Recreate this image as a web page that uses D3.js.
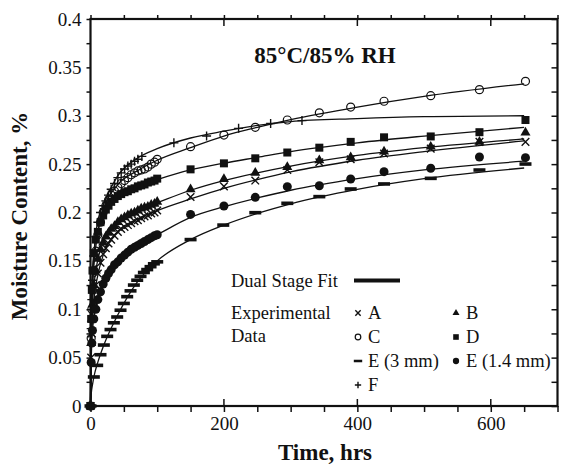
<!DOCTYPE html>
<html><head><meta charset="utf-8">
<script src="https://cdn.jsdelivr.net/npm/d3@7"></script>
<style>body{margin:0;background:#fff} text{font-family:"Liberation Serif","Times New Roman",serif;fill:#111}</style>
</head><body><svg id="c" width="561" height="466"></svg>
<script>
// ---------- DATA ----------
const seriesNames = ["A","B","C","D","E (3 mm)","E (1.4 mm)","F"];
const tMain = [0,1,2,3,5,8,11,15,19,23,27,31,36,41,46,51,56,61,66,71,76,81,86,91,96,100,150,200,247,295,343,390,440,510,583,652];
const vA = [0,0.05,0.075,0.09,0.108,0.125,0.137,0.148,0.157,0.163,0.168,0.172,0.176,0.18,0.183,0.185,0.187,0.189,0.191,0.192,0.194,0.196,0.197,0.199,0.2,0.202,0.216,0.227,0.233,0.244,0.252,0.255,0.261,0.266,0.273,0.273];
const vB = [0,0.065,0.09,0.105,0.125,0.14,0.152,0.162,0.169,0.175,0.179,0.183,0.186,0.19,0.193,0.195,0.197,0.199,0.2,0.202,0.204,0.205,0.206,0.208,0.209,0.211,0.224,0.2346,0.241,0.247,0.254,0.257,0.263,0.268,0.273,0.2825];
const vC = [0,0.07,0.1,0.12,0.14,0.16,0.177,0.19,0.2,0.207,0.213,0.218,0.222,0.226,0.23,0.233,0.236,0.239,0.241,0.243,0.244,0.245,0.247,0.25,0.252,0.255,0.268,0.28,0.288,0.2956,0.303,0.309,0.315,0.3207,0.327,0.3356];
const vD = [0,0.09,0.12,0.14,0.158,0.172,0.18,0.19,0.197,0.203,0.207,0.211,0.214,0.217,0.219,0.221,0.222,0.224,0.225,0.227,0.228,0.229,0.231,0.232,0.233,0.235,0.2446,0.2508,0.256,0.262,0.267,0.273,0.2777,0.2786,0.283,0.2956];
const vE14 = [0,0.045,0.065,0.078,0.09,0.1,0.11,0.118,0.126,0.132,0.137,0.141,0.146,0.149,0.153,0.156,0.159,0.162,0.164,0.166,0.168,0.17,0.172,0.174,0.176,0.177,0.198,0.2067,0.2157,0.2267,0.2277,0.2346,0.2422,0.2457,0.2574,0.2567];
const tE3 = [0,5,10,15,20,25,30,35,40,45,50,55,60,65,70,75,80,85,90,95,100,150,199,247,295,343,390,440,510,583,652];
const vE3 = [0,0.03,0.042,0.053,0.063,0.072,0.079,0.086,0.092,0.099,0.106,0.113,0.119,0.125,0.13,0.134,0.138,0.141,0.144,0.147,0.149,0.172,0.187,0.1998,0.2095,0.2164,0.2243,0.2295,0.2353,0.2439,0.2501];
const tF = [0,1,2,3,5,8,11,15,19,23,27,31,36,41,46,51,56,61,66,71,77,125,174,222,270,317];
const vF = [0,0.08,0.11,0.13,0.155,0.175,0.19,0.2,0.207,0.212,0.218,0.224,0.23,0.236,0.241,0.245,0.248,0.25,0.253,0.255,0.258,0.272,0.279,0.287,0.292,0.295];

// Dual stage fit curves
const tFit = [0,1,3,6,10,20,40,70,100,150,200,250,300,400,500,650];
const fitA = [0,0.05,0.09,0.115,0.132,0.158,0.18,0.193,0.202,0.214,0.225,0.234,0.242,0.254,0.263,0.274];
const fitB = [0,0.065,0.105,0.13,0.148,0.171,0.19,0.202,0.21,0.223,0.233,0.241,0.248,0.259,0.267,0.276];
const fitC = [0,0.07,0.12,0.152,0.175,0.204,0.228,0.243,0.254,0.267,0.279,0.288,0.296,0.309,0.32,0.333];
const fitD = [0,0.09,0.14,0.165,0.179,0.2,0.217,0.227,0.234,0.244,0.251,0.257,0.263,0.272,0.279,0.288];
const fitE3 = [0,0.012,0.022,0.033,0.043,0.063,0.093,0.128,0.15,0.172,0.187,0.199,0.209,0.224,0.235,0.246];
const fitE14 = [0,0.045,0.078,0.095,0.108,0.13,0.15,0.166,0.177,0.195,0.206,0.215,0.223,0.235,0.244,0.253];
const fitF = [0,0.08,0.13,0.163,0.188,0.209,0.237,0.256,0.266,0.277,0.284,0.29,0.294,0.297,0.299,0.3];

const xTicks = [0,50,100,150,200,250,300,350,400,450,500,550,600,650,700];
const xMajor = [0,200,400,600];
const xTickLabels = ["0","200","400","600"];
const yTicks = [0,0.025,0.05,0.075,0.1,0.125,0.15,0.175,0.2,0.225,0.25,0.275,0.3,0.325,0.35,0.375,0.4];
const yMajor = [0,0.05,0.1,0.15,0.2,0.25,0.3,0.35,0.4];
const yTickLabels = ["0","0.05","0.1","0.15","0.2","0.25","0.3","0.35","0.4"];

const titleText = "85°C/85% RH";
const xLabel = "Time, hrs";
const yLabel = "Moisture Content, %";

// ---------- SETUP ----------
const svg = d3.select("#c");
const L = 90.5, R = 557.5, T = 19, B = 406;
const x = d3.scaleLinear().domain([0,700]).range([L,R]);
const y = d3.scaleLinear().domain([0,0.4]).range([B,T]);

const series = [
  {name:seriesNames[0], t:tMain, v:vA, fit:fitA, m:"x"},
  {name:seriesNames[1], t:tMain, v:vB, fit:fitB, m:"tri"},
  {name:seriesNames[2], t:tMain, v:vC, fit:fitC, m:"ocirc"},
  {name:seriesNames[3], t:tMain, v:vD, fit:fitD, m:"sq"},
  {name:seriesNames[4], t:tE3, v:vE3, fit:fitE3, m:"dash"},
  {name:seriesNames[5], t:tMain, v:vE14, fit:fitE14, m:"fcirc"},
  {name:seriesNames[6], t:tF, v:vF, fit:fitF, m:"plus"}
];

// ---------- AXES ----------
const fmtY = d => { const i = yMajor.findIndex(m => Math.abs(m-d)<1e-9); return i>=0 ? yTickLabels[i] : ""; };
const fmtX = d => { const i = xMajor.indexOf(d); return i>=0 ? xTickLabels[i] : ""; };

function styleAxis(g){
  g.select(".domain").remove();
  g.selectAll(".tick line").attr("stroke","#111").attr("stroke-width",1.5);
  g.selectAll(".tick text").attr("font-size",19).attr("fill","#111").attr("font-family","Liberation Serif, serif");
}
svg.append("g").attr("transform",`translate(${L},0)`)
  .call(d3.axisLeft(y).tickValues(yTicks).tickSize(4).tickPadding(5).tickFormat(fmtY)).call(styleAxis);
svg.append("g").attr("transform",`translate(${R},0)`)
  .call(d3.axisLeft(y).tickValues(yTicks).tickSize(6).tickFormat("")).call(styleAxis);
svg.append("g").attr("transform",`translate(0,${B})`)
  .call(d3.axisBottom(x).tickValues(xTicks).tickSize(6).tickPadding(4.5).tickFormat(fmtX)).call(styleAxis);
svg.append("g").attr("transform",`translate(0,${T})`)
  .call(d3.axisTop(x).tickValues(xTicks).tickSize(4).tickFormat("")).call(styleAxis);
// inward major ticks on top & bottom
svg.append("g").selectAll("line").data(xMajor.filter(d=>d>0)).join("line")
  .attr("x1",d=>x(d)).attr("x2",d=>x(d)).attr("y1",B).attr("y2",B-7)
  .attr("stroke","#111").attr("stroke-width",1.5);
svg.append("g").selectAll("line").data(xMajor.filter(d=>d>0)).join("line")
  .attr("x1",d=>x(d)).attr("x2",d=>x(d)).attr("y1",T).attr("y2",T+7)
  .attr("stroke","#111").attr("stroke-width",1.5);
// frame
svg.append("rect").attr("x",L).attr("y",T).attr("width",R-L).attr("height",B-T)
  .attr("fill","none").attr("stroke","#111").attr("stroke-width",2.2);

// ---------- FIT LINES ----------
const line = d3.line().x(d=>x(d[0])).y(d=>y(d[1])).curve(d3.curveMonotoneX);
const plot = svg.append("g");
series.forEach(s=>{
  plot.append("path").datum(tFit.map((t,i)=>[t,s.fit[i]]))
    .attr("d",line).attr("fill","none").attr("stroke","#111").attr("stroke-width",1.3);
});

// ---------- MARKERS ----------
function marker(g, type, cx, cy, k){
  const c = "#111";
  if(type==="x"){ const r=3.8*k;
    g.append("path").attr("d",`M${cx-r},${cy-r}L${cx+r},${cy+r}M${cx-r},${cy+r}L${cx+r},${cy-r}`).attr("stroke",c).attr("stroke-width",1.4).attr("fill","none");
  } else if(type==="plus"){ const r=4.5*k;
    g.append("path").attr("d",`M${cx-r},${cy}L${cx+r},${cy}M${cx},${cy-r}L${cx},${cy+r}`).attr("stroke",c).attr("stroke-width",1.4).attr("fill","none");
  } else if(type==="tri"){
    g.append("path").attr("transform",`translate(${cx},${cy})`).attr("d",d3.symbol(d3.symbolTriangle, 44*k*k)()).attr("fill",c);
  } else if(type==="sq"){ const s=8*k;
    g.append("rect").attr("x",cx-s/2).attr("y",cy-s/2).attr("width",s).attr("height",s).attr("fill",c);
  } else if(type==="ocirc"){
    g.append("circle").attr("cx",cx).attr("cy",cy).attr("r",4*k).attr("fill","none").attr("stroke",c).attr("stroke-width",1.2);
  } else if(type==="fcirc"){
    g.append("circle").attr("cx",cx).attr("cy",cy).attr("r",4.5*k).attr("fill",c);
  } else if(type==="dash"){ const w=12*k, h=3.6*k;
    g.append("rect").attr("x",cx-w/2).attr("y",cy-h/2).attr("width",w).attr("height",h).attr("fill",c);
  }
}
const mg = svg.append("g");
series.forEach(s=>{
  s.t.forEach((t,i)=> marker(mg, s.m, x(t), y(s.v[i]), 1));
});

// ---------- TEXT ----------
svg.append("text").attr("x",325).attr("y",63).attr("text-anchor","middle")
  .attr("font-size",23).attr("font-weight","bold").text(titleText);
svg.append("text").attr("x",325).attr("y",460).attr("text-anchor","middle")
  .attr("font-size",23).attr("font-weight","bold").text(xLabel);
svg.append("text").attr("transform","translate(27,216) rotate(-90)").attr("text-anchor","middle")
  .attr("font-size",23).attr("font-weight","bold").text(yLabel);

// ---------- LEGEND ----------
const lg = svg.append("g").attr("font-size",18.5);
lg.append("text").attr("x",231).attr("y",287).text("Dual Stage Fit");
lg.append("line").attr("x1",354).attr("x2",400).attr("y1",280.5).attr("y2",280.5).attr("stroke","#111").attr("stroke-width",3.8);
lg.append("text").attr("x",231).attr("y",319).text("Experimental");
lg.append("text").attr("x",231).attr("y",342).text("Data");
const legPos = [[358,319],[456,319],[358,343],[456,343],[358,367],[456,367],[358,391]];
series.forEach((s,i)=>{
  const [lx,ly] = legPos[i];
  marker(lg, s.m, lx, ly-6, 0.7);
  lg.append("text").attr("x",lx+10).attr("y",ly).text(s.name);
});
</script></body></html>
